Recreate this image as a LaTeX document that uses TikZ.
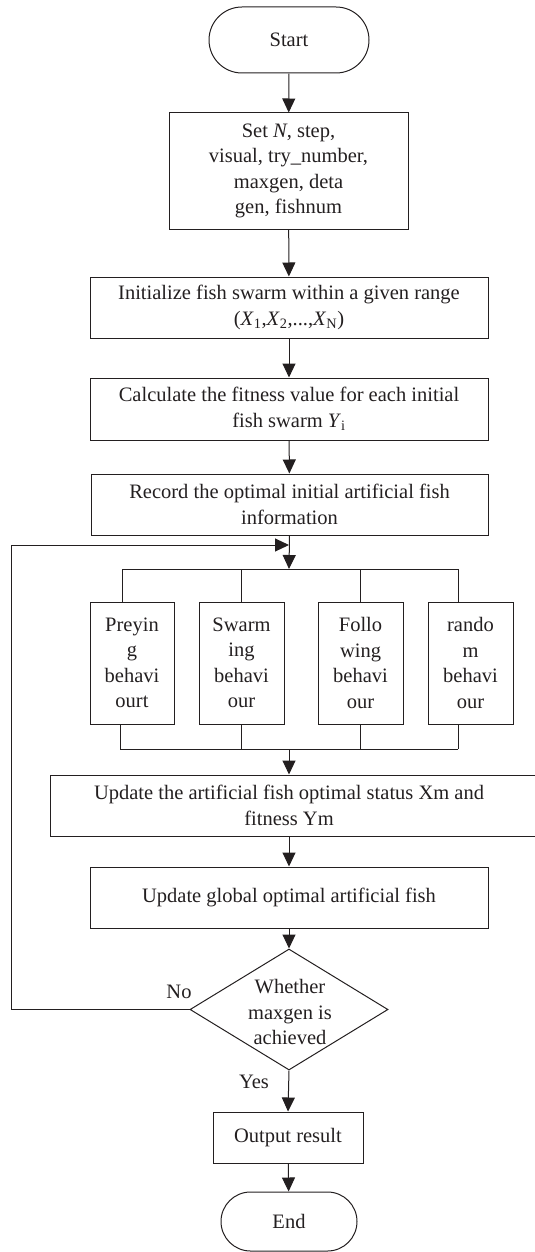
\documentclass[tikz,border=0pt]{standalone}
\usepackage{fontspec}
\setmainfont{Liberation Serif}
\usetikzlibrary{shapes.misc,shapes.geometric,arrows.meta}
\definecolor{ink}{HTML}{231F20}
\tikzset{
  box/.style={draw=ink, line width=1pt, rectangle, inner sep=0pt, align=center, text=ink,
    font=\fontsize{20.5}{25.5}\selectfont},
  term/.style={box, rounded rectangle},
  dia/.style={draw=ink, line width=1pt, diamond, inner sep=0pt},
  lbl/.style={text=ink, font=\fontsize{20.5}{25.5}\selectfont, align=center, inner sep=0pt},
  conn/.style={draw=ink, line width=1pt},
  arr/.style={conn, -{Triangle[length=14pt,width=13pt]}}
}
\begin{document}
\begin{tikzpicture}[x=1pt,y=-1pt]
\useasboundingbox (0,0) rectangle (535,1252);
\clip (0,0) rectangle (535,1252);
\node[term, minimum width=160, minimum height=66] (start) at (289,40) {Start};
\node[box, minimum width=239, minimum height=116] (set) at (288.5,171)
  {Set \textit{N}, step,\\visual, try\_number,\\maxgen, deta\\gen, fishnum};
\node[box, minimum width=398, minimum height=61] (init) at (289,307.5)
  {Initialize fish swarm within a given range\\(\textit{X}\textsubscript{1},\textit{X}\textsubscript{2},...,\textit{X}\textsubscript{N})};
\node[box, minimum width=398, minimum height=62] (calc) at (289,409)
  {Calculate the fitness value for each initial\\fish swarm \textit{Y}\textsubscript{i}};
\node[box, minimum width=397, minimum height=61] (rec) at (289.5,504.5)
  {Record the optimal initial artificial fish\\information};
\node[box, minimum width=84, minimum height=122] (b1) at (132,663) {Preyin\\g\\behavi\\ourt};
\node[box, minimum width=85, minimum height=122] (b2) at (241.5,663) {Swarm\\ing\\behavi\\our};
\node[box, minimum width=85, minimum height=122] (b3) at (360.5,663) {Follo\\wing\\behavi\\our};
\node[box, minimum width=85, minimum height=122] (b4) at (470.5,663) {rando\\m\\behavi\\our};
\node[box, minimum width=492, minimum height=61] (upd) at (296,805.5)
  {\hspace*{-14pt}Update the artificial fish optimal status Xm and\\\hspace*{-14pt}fitness Ym};
\node[box, minimum width=398, minimum height=61] (glob) at (289,897.5)
  {Update global optimal artificial fish};
\node[dia, minimum width=198, minimum height=121] (dec) at (289,1009.5) {};
\node[lbl] (dect) at (290,1012) {Whether\\maxgen is\\achieved};
\node[box, minimum width=150, minimum height=51] (out) at (288,1137.5) {Output result};
\node[term, minimum width=136, minimum height=59] (end) at (289,1221.5) {End};
\node[lbl] (no) at (179,992) {No};
\node[lbl] (yes) at (254,1082) {Yes};
% coordinates
\coordinate (loopL) at (11,1009.5);
\coordinate (join) at (289,545);
\coordinate (busT) at (289,569);
\coordinate (busB) at (289,749);
\coordinate (t1) at (122,569);
\coordinate (t4) at (458,569);
\coordinate (u1) at (120,749);
\coordinate (u4) at (458,749);
% connectors
\draw[arr] (start) -- (set);
\draw[arr] (set) -- (init);
\draw[arr] (init) -- (calc);
\draw[arr] (calc) -- (rec);
\draw[arr] (rec.south) -- (busT);
\draw[arr] (dec.west) -- (loopL) |- (join);
\draw[conn] (t1) -- (t4);
\draw[conn] (t1) -- (t1 |- b1.north);
\draw[conn] (busT -| b2.north) -- (b2.north);
\draw[conn] (busT -| b3.north) -- (b3.north);
\draw[conn] (t4) -- (t4 |- b4.north);
\draw[conn] (u1) -- (u4);
\draw[conn] (u1) -- (u1 |- b1.south);
\draw[conn] (busB -| b2.south) -- (b2.south);
\draw[conn] (busB -| b3.south) -- (b3.south);
\draw[conn] (u4) -- (u4 |- b4.south);
\draw[arr] (busB) -- (busB |- upd.north);
\draw[arr] (upd.south -| glob.north) -- (glob.north);
\draw[arr] (glob) -- (dec);
\draw[arr] (dec.south) -- (out.north);
\draw[arr] (out) -- (end);
\end{tikzpicture}
\end{document}
